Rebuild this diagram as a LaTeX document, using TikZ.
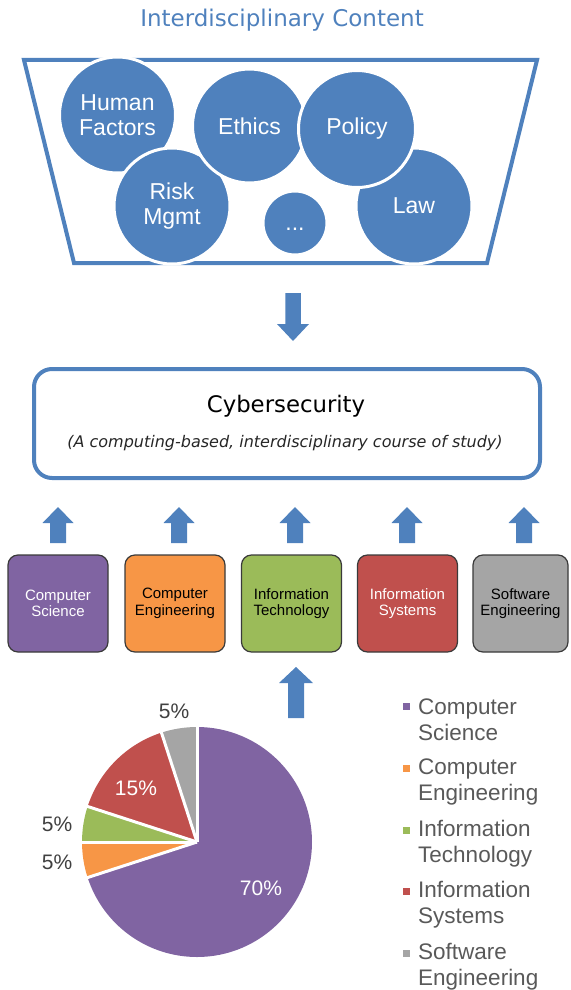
\documentclass[tikz,border=0pt]{standalone}
\usepackage{fontspec}
\setmainfont{Liberation Sans}
\newfontfamily\verd{DejaVu Sans}
\definecolor{bl}{HTML}{4F81BD}
\definecolor{cscol}{HTML}{8064A2}
\definecolor{cecol}{HTML}{F79646}
\definecolor{itcol}{HTML}{9BBB59}
\definecolor{iscol}{HTML}{C0504D}
\definecolor{secol}{HTML}{A5A5A5}
\definecolor{boxline}{HTML}{3A3A3A}
\definecolor{lbl}{HTML}{404040}
\definecolor{legtext}{HTML}{595959}
\newcommand\blkarr[6]{\fill[bl] (#1-#6,#4) -- (#1-#6,#3) -- (#1-#5,#3) -- (#1,#2) -- (#1+#5,#3) -- (#1+#6,#3) -- (#1+#6,#4) -- cycle;}
\begin{document}
\begin{tikzpicture}[x=1pt,y=-1pt,
  topic/.style={circle, fill=bl, draw=white, line width=3pt, text=white,
    font=\fontsize{23}{25}\selectfont, align=center, inner sep=0pt},
  disc/.style={rounded corners=10pt, draw=boxline, line width=1.2pt,
    minimum width=100pt, minimum height=97pt, align=center, inner sep=0pt,
    font=\fontsize{15}{16.5}\selectfont},
  pielbl/.style={text=lbl, font=\fontsize{21}{22}\selectfont, inner sep=0pt},
  pieinner/.style={text=white, font=\fontsize{21}{22}\selectfont, inner sep=0pt},
  legentry/.style={text=legtext, font=\fontsize{22.5}{26}\selectfont, align=left, anchor=west, inner sep=0pt},
  legsq/.style={minimum size=7pt, inner sep=0pt}]
\useasboundingbox (0,0) rectangle (570,990);

% title
\node[text=bl, font=\verd\fontsize{23}{27}\selectfont] (title) at (282,20) {Interdisciplinary Content};

% trapezoid
\coordinate (t1) at (24,60);
\coordinate (t2) at (537,60);
\coordinate (t3) at (487,263);
\coordinate (t4) at (74,263);
\draw[bl, line width=4pt, line join=miter] (t1) -- (t2) -- (t3) -- (t4) -- cycle;

% topic circles
\node[topic, minimum size=116pt] (hf) at (117.5,115) {Human\\Factors};
\node[topic, minimum size=116pt] (rm) at (172,206) {Risk\\Mgmt};
\node[topic, minimum size=114pt] (eth) at (249.5,126) {Ethics};
\node[topic, minimum size=116pt] (law) at (414,206) {Law};
\node[topic, minimum size=117pt] (pol) at (357,129) {Policy};
\node[topic, minimum size=64pt] (dots) at (295,223) {\smash{\raisebox{-7pt}{...}}};

% down arrow
\blkarr{293}{341}{324}{293}{16}{7.75}

% cybersecurity box
\node[draw=bl, line width=4pt, rounded corners=18pt, minimum width=506pt, minimum height=109pt] (cyber) at (287,423.5) {};
\node[font=\verd\fontsize{22.8}{26}\selectfont] (cybt) at (286,406) {Cybersecurity};
\node[font=\verd\itshape\fontsize{16}{19}\selectfont, text=black!85] (cybs) at (285,443) {(A computing-based, interdisciplinary course of study)};

% up arrows
\blkarr{58}{507}{523}{543}{15.5}{8}
\blkarr{179}{507}{523}{543}{15.5}{8}
\blkarr{295}{507}{523}{543}{15.5}{8}
\blkarr{407}{507}{523}{543}{15.5}{8}
\blkarr{524}{507}{523}{543}{15.5}{8}

% discipline boxes
\node[disc, fill=cscol, text=white] (cs) at (58,603.5) {Computer\\Science};
\node[disc, fill=cecol, text=black] (ce) at (175,603.5) {Computer\\Engineering};
\node[disc, fill=itcol, text=black] (it) at (291.5,603.5) {Information\\Technology};
\node[disc, fill=iscol, text=white] (is) at (407.5,603.5) {Information\\Systems};
\node[disc, fill=secol, text=black, minimum width=95pt] (se) at (520.5,603.5) {Software\\Engineering};

% arrow from pie to IT
\blkarr{296}{667}{683}{718}{17}{8}

% pie chart
\coordinate (pc) at (197,842);
\fill[cscol] (pc) -- ++(-90:115) arc[start angle=-90, end angle=162, radius=115] -- cycle;
\fill[cecol] (pc) -- ++(162:115) arc[start angle=162, end angle=180, radius=115] -- cycle;
\fill[itcol] (pc) -- ++(180:115) arc[start angle=180, end angle=198, radius=115] -- cycle;
\fill[iscol] (pc) -- ++(198:115) arc[start angle=198, end angle=252, radius=115] -- cycle;
\fill[secol] (pc) -- ++(252:115) arc[start angle=252, end angle=270, radius=115] -- cycle;
\foreach \a in {-90,162,180,198,252}
  \draw[white, line width=3pt] (pc) -- ++(\a:116);
\node[pieinner] (p70) at (261,888) {70\%};
\node[pieinner] (p15) at (136,788) {15\%};
\node[pielbl] (p5a) at (174,711) {5\%};
\node[pielbl] (p5b) at (57,824) {5\%};
\node[pielbl] (p5c) at (57,862) {5\%};

% legend
\node[legsq, fill=cscol] (l1) at (406.5,706) {};
\node[legsq, fill=cecol] (l2) at (406.5,768) {};
\node[legsq, fill=itcol] (l3) at (406.5,830) {};
\node[legsq, fill=iscol] (l4) at (406.5,891) {};
\node[legsq, fill=secol] (l5) at (406.5,953) {};
\node[legentry] (g1) at (418,720) {Computer\\Science};
\node[legentry] (g2) at (418,782) {Computer\\Engineering};
\node[legentry] (g3) at (418,844) {Information\\Technology};
\node[legentry] (g4) at (418,905) {Information\\Systems};
\node[legentry] (g5) at (418,967) {Software\\Engineering};
\end{tikzpicture}
\end{document}
